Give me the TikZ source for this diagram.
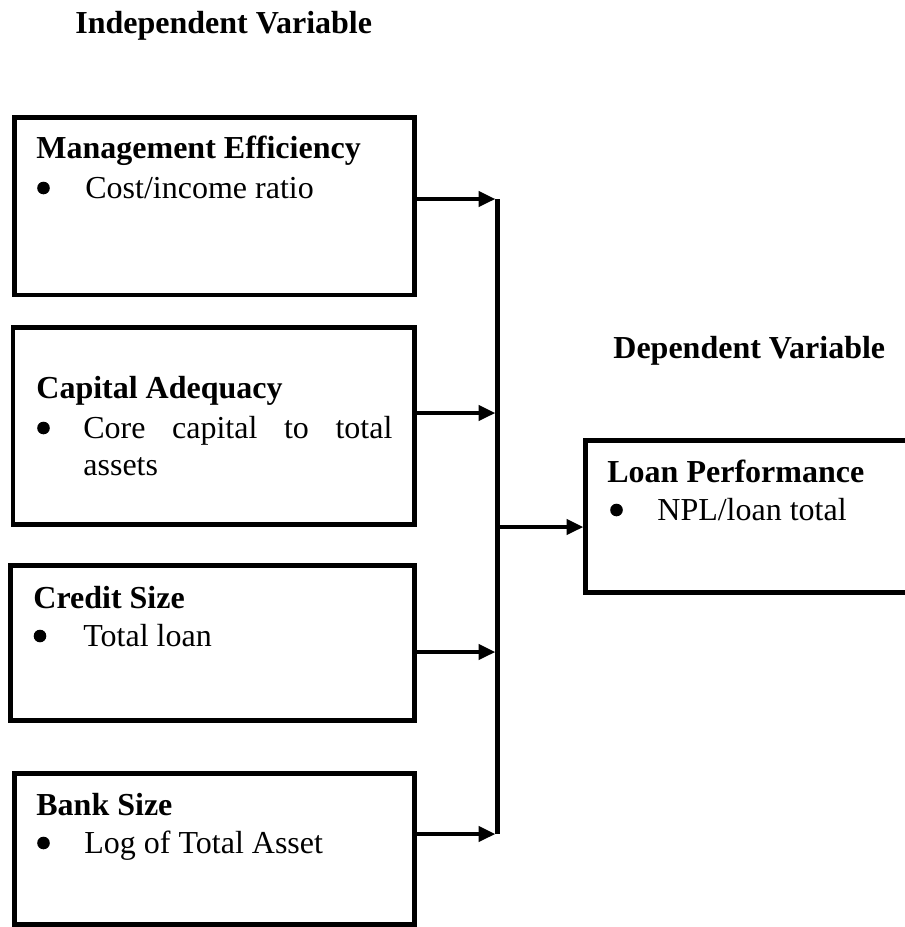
\documentclass[tikz,border=0pt]{standalone}
\usepackage{fontspec}
\setmainfont{Liberation Serif}
\usetikzlibrary{arrows.meta}

\begin{document}
\begin{tikzpicture}[x=0.5pt, y=-0.5pt,
    every node/.style={font=\fontsize{16}{20}\selectfont},
    varbox/.style={draw, rectangle, line width=2.4pt, inner sep=0pt, outer sep=0pt},
    head/.style={anchor=base west, inner sep=0pt, font=\fontsize{16}{20}\selectfont\bfseries},
    item/.style={anchor=base west, inner sep=0pt},
    dot/.style={circle, fill, inner sep=0pt, minimum size=6.3pt},
    link/.style={line width=2.2pt, shorten >=1pt, -{Triangle[length=8.5pt, width=7.5pt]}}]
    \useasboundingbox (0,0) rectangle (905,927);

    % Headings
    \node[head] (indep) at (75,33) {Independent Variable};
    \node[head] (dep) at (613,358) {Dependent Variable};

    % Independent variables
    \node[varbox, minimum width=200pt, minimum height=88.75pt] (me) at (214.5,206.25) {};
    \node[head] (metitle) at (36,158) {Management Efficiency};
    \node[dot] (medot) at (43.5,188) {};
    \node[item] (meitem) at (85,198) {Cost/income ratio};

    \node[varbox, minimum width=200.75pt, minimum height=98.5pt] (ca) at (213.75,426) {};
    \node[head] (catitle) at (36,398) {Capital Adequacy};
    \node[dot] (cadot) at (43.5,428) {};
    \node[item] (caitem) at (83,438) {\makebox[154.5pt][s]{Core capital to total}};
    \node[item] (caitemb) at (83,475) {assets};

    \node[varbox, minimum width=202pt, minimum height=77.5pt] (cs) at (212.5,643) {};
    \node[head] (cstitle) at (33,608) {Credit Size};
    \node[dot] (csdot) at (40,636) {};
    \node[item] (csitem) at (83,646) {Total loan};

    \node[varbox, minimum width=200pt, minimum height=75.5pt] (bs) at (214.5,849) {};
    \node[head] (bstitle) at (36,815) {Bank Size};
    \node[dot] (bsdot) at (43.5,843) {};
    \node[item] (bsitem) at (84,853) {Log of Total Asset};

    % Dependent variable
    \node[varbox, minimum width=163.25pt, minimum height=76pt] (loan) at (748.75,516.5) {};
    \node[head] (loantitle) at (607,482) {Loan Performance};
    \node[dot] (loandot) at (616.5,510) {};
    \node[item] (loanitem) at (657,520) {NPL/loan total};

    % Bus
    \coordinate (bus1) at (497.5,199);
    \coordinate (bus2) at (497.5,413);
    \coordinate (bus3) at (497.5,652);
    \coordinate (bus4) at (497.5,834);
    \coordinate (busout) at (497.5,527);

    % Arrows
    \draw[link] (me.east |- bus1) -- (bus1);
    \draw[link] (ca.east |- bus2) -- (bus2);
    \draw[link] (cs.east |- bus3) -- (bus3);
    \draw[link] (bs.east |- bus4) -- (bus4);
    \draw[line width=2.2pt] (bus1) -- (bus4);
    \draw[link] (busout) -- (loan.west |- busout);
\end{tikzpicture}
\end{document}
